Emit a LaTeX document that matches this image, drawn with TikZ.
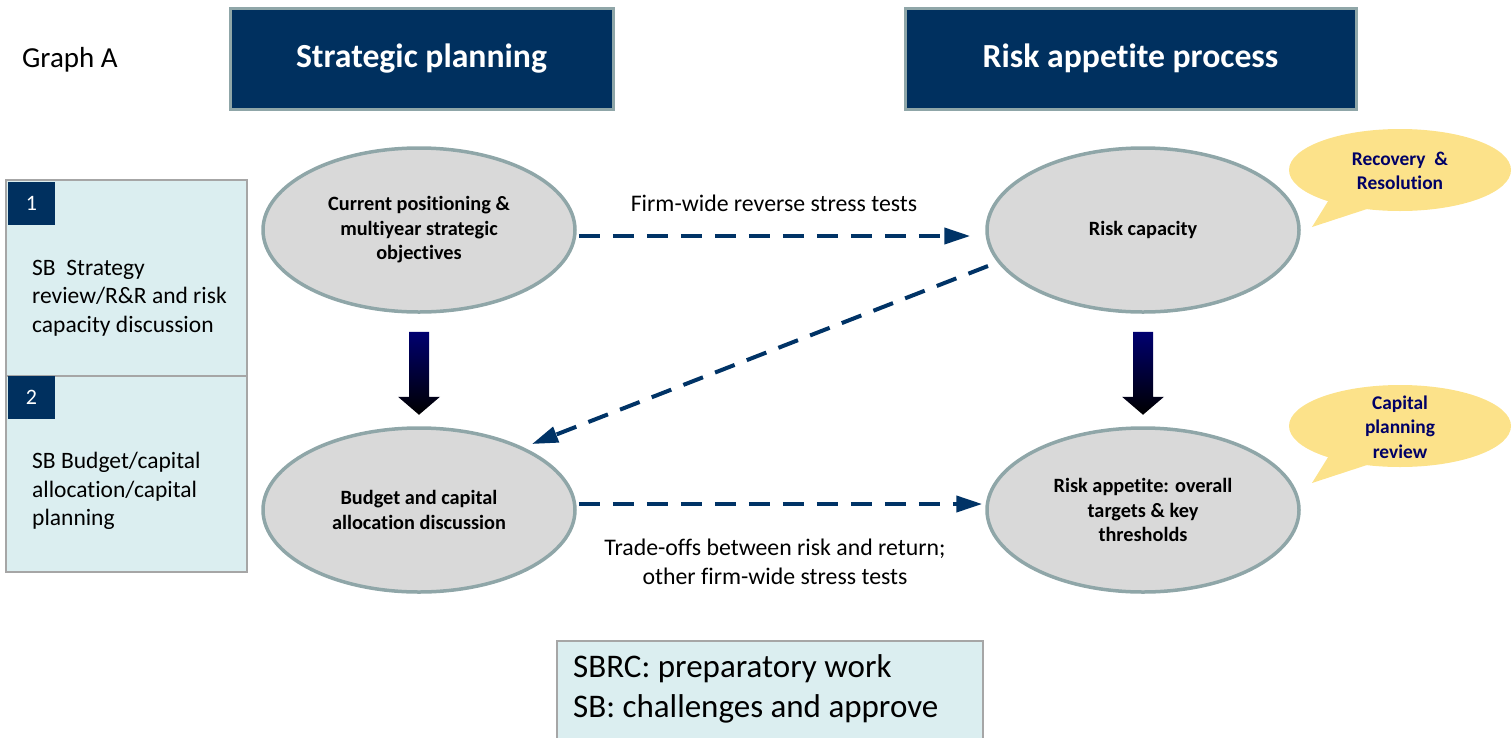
\documentclass[tikz,border=0pt]{standalone}
\usepackage{fontspec}
\setmainfont[Ligatures=NoCommon]{Carlito}
\usetikzlibrary{shapes.geometric,arrows.meta,calc}
\definecolor{navy}{HTML}{00305F}
\definecolor{rim}{HTML}{8FA6A8}
\definecolor{ovalfill}{HTML}{D9D9D9}
\definecolor{panel}{HTML}{DBEEF0}
\definecolor{panelrim}{HTML}{A6A6A6}
\definecolor{dasharrow}{HTML}{003366}
\definecolor{callout}{HTML}{FCE28A}
\definecolor{callouttext}{HTML}{000066}
\definecolor{arrtop}{HTML}{000070}
\tikzset{
  header/.style={rectangle, fill=navy, draw=rim, line width=3pt, minimum width=383pt, minimum height=101pt, inner sep=0pt, text=white, font=\fontsize{33.7}{40}\selectfont\bfseries},
  oval/.style={ellipse, fill=ovalfill, draw=rim, line width=3.5pt, minimum width=312pt, minimum height=164pt, inner sep=0pt, align=center, font=\fontsize{20.3}{24.5}\selectfont\bfseries},
  flow/.style={draw=dasharrow, line width=4pt, dash pattern=on 21pt off 13pt, -{Triangle[length=26pt,width=16pt]}},
  flowlabel/.style={font=\fontsize{23.8}{29}\selectfont, align=center, inner sep=0pt},
  panelbox/.style={rectangle, fill=panel, draw=panelrim, line width=2.5pt, minimum width=241pt, minimum height=196pt, inner sep=0pt},
  numbox/.style={rectangle, fill=navy, minimum width=47pt, minimum height=43pt, inner sep=0pt, text=white, font=\fontsize{22}{26}\selectfont},
  paneltext/.style={font=\fontsize{23.5}{28.3}\selectfont, align=left, inner sep=0pt, anchor=west},
  bubble/.style={fill=callout},
  bubbletext/.style={font=\fontsize{19.4}{24.5}\selectfont\bfseries, text=callouttext, align=center, inner sep=0pt},
  bigarrow/.style={top color=arrtop, bottom color=black}
}
\begin{document}
\begin{tikzpicture}[x=1pt,y=-1pt]
\useasboundingbox (0,0) rectangle (1512,737);

% title
\node[font=\fontsize{29}{34}\selectfont, anchor=west, inner sep=0pt] (title) at (22,60) {Graph A};

% headers
\node[header] (h1) at (421.5,58.5) {Strategic planning};
\node[header, minimum width=451pt] (h2) at (1130.5,58.5) {Risk appetite process};

% ovals
\node[oval] (e1) at (419,230) {Current positioning \&\\multiyear strategic\\objectives};
\node[oval] (e2) at (419,510) {Budget and capital\\allocation discussion};
\node[oval] (e3) at (1143,230) {Risk capacity};
\node[oval] (e4) at (1143,510) {Risk appetite: overall\\targets \& key\\thresholds};

% big down arrows
\coordinate (a1) at ($(e1.south)+(0,18)$);
\shade[bigarrow] ($(a1)+(-10,0)$) -- ($(a1)+(10,0)$) -- ($(a1)+(10,65)$) -- ($(a1)+(21,65)$) -- ($(a1)+(0,83)$) -- ($(a1)+(-21,65)$) -- ($(a1)+(-10,65)$) -- cycle;
\coordinate (a2) at ($(e3.south)+(0,18)$);
\shade[bigarrow] ($(a2)+(-10,0)$) -- ($(a2)+(10,0)$) -- ($(a2)+(10,65)$) -- ($(a2)+(21,65)$) -- ($(a2)+(0,83)$) -- ($(a2)+(-21,65)$) -- ($(a2)+(-10,65)$) -- cycle;

% dashed flows
\draw[flow] ($(e1.east)+(2,6)$) -- ($(e3.west)+(-15,6)$);
\node[flowlabel] (l1) at (774,203) {Firm-wide reverse stress tests};
\draw[flow] ($(e3.center)+(-155,36)$) -- ($(e2.center)+(113,-66)$);
\draw[flow] ($(e2.east)+(2,-6)$) -- ($(e4.west)+(-3,-6)$);
\node[flowlabel] (l2) at (775,562) {Trade-offs between risk and return;\\other firm-wide stress tests};

% left panel
\node[panelbox] (p1) at (126.5,278) {};
\node[panelbox] (p2) at (126.5,474) {};
\node[numbox, anchor=north west] (n1) at ($(p1.north west)+(3,3)$) {1};
\node[numbox, anchor=north west] (n2) at ($(p2.north west)+(3,1)$) {2};
\node[paneltext] (t1) at (32,298) {SB\ \ Strategy\\review/R\&R and risk\\capacity discussion};
\node[paneltext] (t2) at (32,491) {SB Budget/capital\\allocation/capital\\planning};

% callouts
\fill[bubble] (1400,170) ellipse [x radius=111, y radius=41];
\fill[bubble] (1330,198) -- (1312,227) -- (1370,208) -- cycle;
\node[bubbletext] (c1) at (1400,171) {Recovery\ \ \&\\Resolution};
\fill[bubble] (1400,426) ellipse [x radius=111, y radius=41];
\fill[bubble] (1330,454) -- (1312,483) -- (1370,464) -- cycle;
\node[bubbletext] (c2) at (1400,427) {Capital\\planning\\review};

% bottom box
\node[rectangle, fill=panel, draw=panelrim, line width=2.5pt, minimum width=426pt, minimum height=100pt, inner sep=0pt] (b) at (770,691) {};
\node[font=\fontsize{33}{40}\selectfont, align=left, anchor=west, inner sep=0pt] (bt) at (573,689) {SBRC: preparatory work\\SB: challenges and approve};
\end{tikzpicture}
\end{document}
